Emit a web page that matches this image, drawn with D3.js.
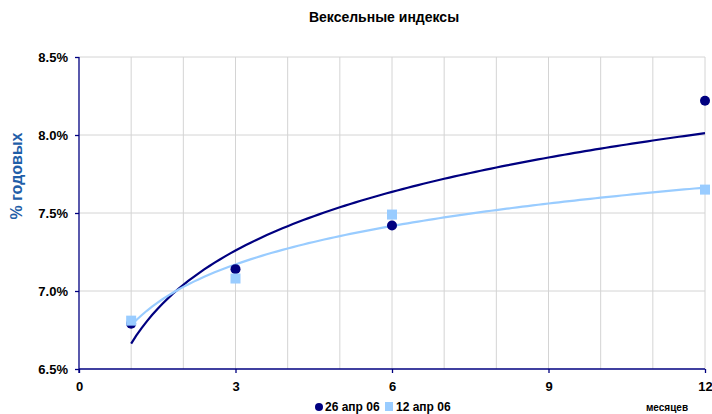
<!DOCTYPE html>
<html><head><meta charset="utf-8">
<script src="https://cdn.jsdelivr.net/npm/d3@7"></script>
<style>body{margin:0;background:#fff;} svg{display:block;font-family:"Liberation Sans",Arial,sans-serif;}</style>
</head><body>
<svg id="c" width="712" height="414"></svg>
<script>
const months = [1, 3, 6, 12];
const seriesNames = ["26 апр 06", "12 апр 06"];
const apr26 = [6.79, 7.14, 7.42, 8.22];
const apr12 = [6.81, 7.08, 7.49, 7.65];
const xTicks = [0, 3, 6, 9, 12];
const yTicks = [6.5, 7.0, 7.5, 8.0, 8.5];
const colors = ["#000080", "#99ccff"];

const svg = d3.select("#c");
const x = d3.scaleLinear().domain([0, 12]).range([79, 705]);
const y = d3.scaleLinear().domain([6.5, 8.5]).range([369, 57]);

// grid
svg.append("g").selectAll("line").data(d3.range(1, 13)).join("line")
  .attr("x1", d => x(d)).attr("x2", d => x(d)).attr("y1", y(8.5)).attr("y2", y(6.5))
  .attr("stroke", "#d4d4d4").attr("stroke-width", 1);
svg.append("g").selectAll("line").data(yTicks.slice(1)).join("line")
  .attr("x1", x(0)).attr("x2", x(12)).attr("y1", d => y(d)).attr("y2", d => y(d))
  .attr("stroke", "#d4d4d4").attr("stroke-width", 1);

// axes
const yAxis = svg.append("g").attr("transform", `translate(${x(0)},0)`)
  .call(d3.axisLeft(y).tickValues(yTicks).tickSize(4).tickPadding(7).tickFormat(d => d3.format(".1f")(d) + "%"));
const xAxis = svg.append("g").attr("transform", `translate(0,${y(6.5)})`)
  .call(d3.axisBottom(x).tickValues(xTicks).tickSize(4).tickPadding(9).tickFormat(d3.format("d")));
[yAxis, xAxis].forEach(g => {
  g.select(".domain").attr("stroke", "#000080").attr("stroke-width", 1.3);
  g.selectAll(".tick line").attr("stroke", "#000080").attr("stroke-width", 1.3);
  g.selectAll("text").attr("fill", "#000").attr("font-size", 13).attr("font-weight", "bold")
    .attr("font-family", "Liberation Sans, Arial, sans-serif");
});
xAxis.select(".domain").attr("d", `M${x(0)},0H${x(12)}`);
yAxis.select(".domain").attr("d", `M0,${y(8.5)}V${y(6.5) + 4}`);

// log trendlines (least squares y = a + b ln x)
function logFit(xs, ys) {
  const lx = xs.map(Math.log);
  const mx = d3.mean(lx), my = d3.mean(ys);
  const b = d3.sum(lx.map((v, i) => (v - mx) * (ys[i] - my))) / d3.sum(lx.map(v => (v - mx) ** 2));
  const a = my - b * mx;
  return t => a + b * Math.log(t);
}
const series = [apr26, apr12];
const line = d3.line().x(d => x(d[0])).y(d => y(d[1]));
series.forEach((s, i) => {
  const f = logFit(months, s);
  const pts = d3.range(1, 12.001, 0.1).map(t => [t, f(t)]);
  svg.append("path").attr("d", line(pts)).attr("fill", "none")
    .attr("stroke", colors[i]).attr("stroke-width", 2.2);
});

// points
svg.append("g").selectAll("circle").data(months.map((m, i) => [m, apr26[i]])).join("circle")
  .attr("cx", d => x(d[0])).attr("cy", d => y(d[1])).attr("r", 5).attr("fill", colors[0]);
svg.append("g").selectAll("rect").data(months.map((m, i) => [m, apr12[i]])).join("rect")
  .attr("x", d => x(d[0]) - 5).attr("y", d => y(d[1]) - 5).attr("width", 10).attr("height", 10)
  .attr("fill", colors[1]);

// title
svg.append("text").attr("x", 384).attr("y", 22).attr("text-anchor", "middle")
  .attr("font-size", 14).attr("font-weight", "bold").text("Вексельные индексы");
// y title
svg.append("text").attr("transform", "translate(22,176) rotate(-90)").attr("text-anchor", "middle")
  .attr("font-size", 16).attr("font-weight", "bold").attr("fill", "#1f5ea8").text("% годовых");
// x title
svg.append("text").attr("x", 667).attr("y", 411).attr("text-anchor", "middle")
  .attr("font-size", 10).attr("font-weight", "bold").text("месяцев");

// legend
const lg = svg.append("g");
lg.append("circle").attr("cx", 319).attr("cy", 407).attr("r", 4).attr("fill", colors[0]);
lg.append("text").attr("x", 325).attr("y", 410.5).attr("font-size", 12).attr("font-weight", "bold").text(seriesNames[0]);
lg.append("rect").attr("x", 385).attr("y", 402).attr("width", 8).attr("height", 9).attr("fill", colors[1]);
lg.append("text").attr("x", 396).attr("y", 410.5).attr("font-size", 12).attr("font-weight", "bold").text(seriesNames[1]);
</script>
</body></html>
